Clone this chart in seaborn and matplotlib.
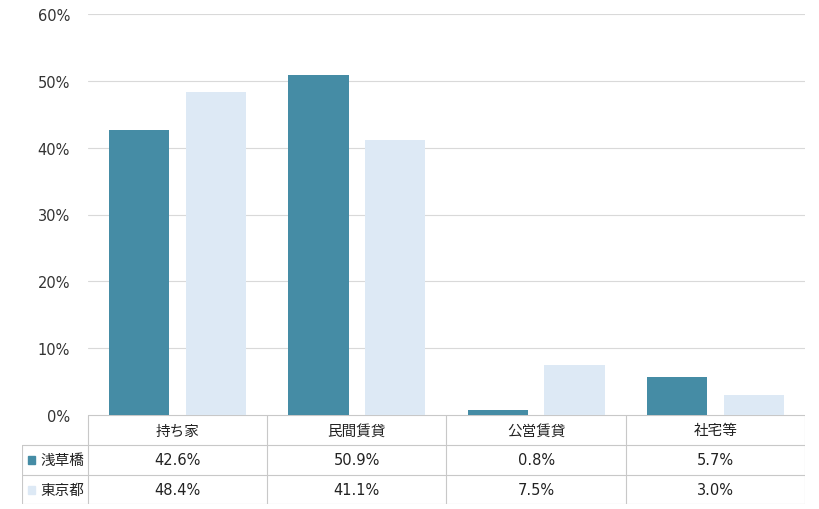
import matplotlib
matplotlib.use("Agg")
import matplotlib.pyplot as plt
import seaborn as sns
import pandas as pd
from matplotlib.patches import Rectangle

categories = ["持ち家", "民間賃貸", "公営賃貸", "社宅等"]
series_names = ["浅草橋", "東京都"]
asakusabashi = [42.6, 50.9, 0.8, 5.7]
tokyo = [48.4, 41.1, 7.5, 3.0]
yticks = [0, 10, 20, 30, 40, 50, 60]
colors = ["#458ca5", "#dde9f5"]

df = pd.DataFrame({
    "cat": categories * 2,
    "series": [series_names[0]] * 4 + [series_names[1]] * 4,
    "value": asakusabashi + tokyo,
})

sns.set_theme(style="white")
plt.rcParams["font.family"] = ["DejaVu Sans", "Noto Sans CJK JP"]
FS = 10.5

W, H = 820, 510
fig = plt.figure(figsize=(W / 100, H / 100), dpi=100)

# plot area in pixel coords
px0, px1, py0, py1 = 88, 805, 15, 416
ax = fig.add_axes([px0 / W, 1 - py1 / H, (px1 - px0) / W, (py1 - py0) / H])
sns.barplot(data=df, x="cat", y="value", hue="series", palette=colors,
            width=0.855, gap=0.215, saturation=1, legend=False,
            linewidth=0, ax=ax)
ax.set_ylim(0, 60)
ax.set_xlim(-0.5, 3.5)
ax.set_yticks(yticks)
ax.set_yticklabels([f"{v}%" for v in yticks], fontsize=FS, color="#333333")
ax.tick_params(axis="y", length=0, pad=13)
ax.set_xticks([])
ax.set_xlabel("")
ax.set_ylabel("")
for s in ax.spines.values():
    s.set_visible(False)
ax.yaxis.grid(True, color="#d9d9d9", linewidth=0.8)
ax.set_axisbelow(True)

# data table below the plot
tx0, ty0, ty1 = 22, 416, 505
tax = fig.add_axes([tx0 / W, 1 - ty1 / H, (px1 - tx0) / W, (ty1 - ty0) / H])
tax.set_xlim(tx0, px1)
tax.set_ylim(ty1, ty0)
tax.axis("off")
line_kw = dict(color="#c8c8c8", linewidth=0.8)
rows = [416, 446, 476, 505]
colw = (px1 - px0) / len(categories)
tax.plot([px0, px1], [rows[0], rows[0]], **line_kw)
for y in rows[1:]:
    tax.plot([tx0, px1], [y, y], **line_kw)
tax.plot([tx0, tx0], [rows[1], rows[3]], **line_kw)
for i in range(len(categories) + 1):
    x = px0 + i * colw
    tax.plot([x, x], [rows[0], rows[3]], **line_kw)

for i, c in enumerate(categories):
    cx = px0 + (i + 0.5) * colw
    tax.text(cx, (rows[0] + rows[1]) / 2, c, ha="center", va="center",
             fontsize=FS, color="#222222")
    for r, vals in enumerate([asakusabashi, tokyo]):
        tax.text(cx, (rows[r + 1] + rows[r + 2]) / 2, f"{vals[i]:.1f}%",
                 ha="center", va="center", fontsize=FS, color="#222222")

for r, name in enumerate(series_names):
    yc = (rows[r + 1] + rows[r + 2]) / 2
    tax.add_patch(Rectangle((28, yc - 4), 7, 8, color=colors[r]))
    tax.text(40, yc, name, ha="left", va="center", fontsize=FS, color="#222222")

fig.savefig("out.png", dpi=100)
